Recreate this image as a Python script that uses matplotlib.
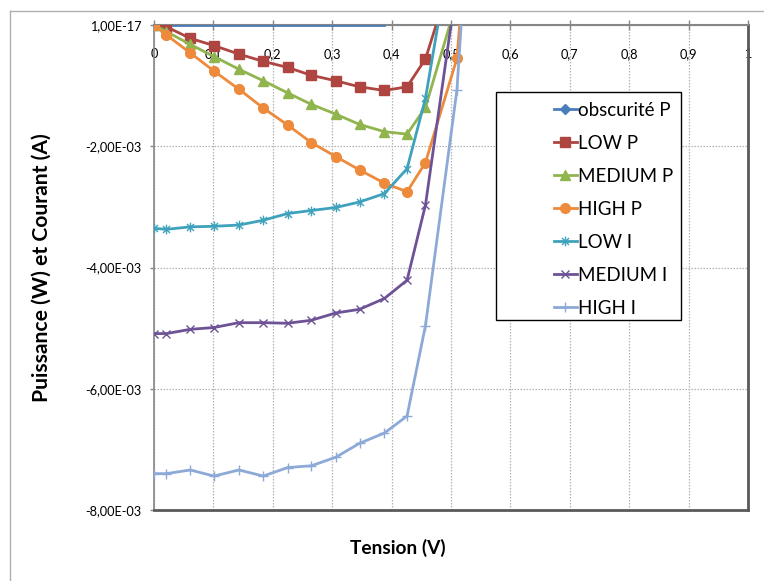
import numpy as np
import matplotlib
matplotlib.use("Agg")
import matplotlib.pyplot as plt
from matplotlib.lines import Line2D
from matplotlib.patches import Rectangle
from matplotlib.path import Path
from matplotlib.ticker import FuncFormatter, FixedLocator

plt.rcParams['font.family'] = ['Lato', 'DejaVu Sans']

nan = np.nan
# Tension (V)
tension = [0, 0.021, 0.061, 0.101, 0.143, 0.184, 0.225, 0.265, 0.306, 0.346, 0.388, 0.426, 0.457, 0.51, 0.55]

# Values in units of 1e-3 (W or A)
obscurite_p = [0, 0, 0, 0, 0, 0, 0, 0, 0, 0, 0, nan, nan, nan, nan]
low_p = [0, -0.03, -0.22, -0.34, -0.48, -0.60, -0.70, -0.83, -0.92, -1.02, -1.08, -1.02, -0.56, 1.09, 3.0]
medium_p = [0, -0.11, -0.32, -0.52, -0.73, -0.92, -1.12, -1.31, -1.47, -1.64, -1.76, -1.80, -1.36, 0.40, 2.5]
high_p = [0, -0.165, -0.46, -0.76, -1.06, -1.37, -1.65, -1.94, -2.17, -2.39, -2.61, -2.75, -2.27, -0.55, 4.3]
low_i = [-3.355, -3.37, -3.33, -3.32, -3.30, -3.22, -3.11, -3.06, -3.01, -2.92, -2.78, -2.37, -1.21, 1.84, 5.0]
medium_i = [-5.09, -5.09, -5.02, -4.99, -4.91, -4.91, -4.92, -4.87, -4.75, -4.69, -4.51, -4.21, -2.97, 0.69, 4.0]
high_i = [-7.40, -7.40, -7.34, -7.44, -7.34, -7.44, -7.30, -7.27, -7.13, -6.90, -6.73, -6.45, -4.96, -1.07, 5.0]

series_names = ["obscurité P", "LOW P", "MEDIUM P", "HIGH P", "LOW I", "MEDIUM I", "HIGH I"]
x_ticks = [0, 0.1, 0.2, 0.3, 0.4, 0.5, 0.6, 0.7, 0.8, 0.9, 1.0]
y_ticks = [-8e-3, -6e-3, -4e-3, -2e-3, 1e-17]

scale = 1e-3

star = Path([(0, -1), (0, 1), (-0.72, -0.72), (0.72, 0.72), (-0.72, 0.72), (0.72, -0.72)],
            [Path.MOVETO, Path.LINETO, Path.MOVETO, Path.LINETO, Path.MOVETO, Path.LINETO])

styles = [
    dict(color='#4A7EBB', marker='D', ms=5, mfc='#4A7EBB', mec='#4A7EBB'),
    dict(color='#AE4541', marker='s', ms=6.5, mfc='#AE4541', mec='#AE4541'),
    dict(color='#90B54E', marker='^', ms=7, mfc='#90B54E', mec='#90B54E'),
    dict(color='#EE8A3C', marker='o', ms=7, mfc='#EE8A3C', mec='#EE8A3C'),
    dict(color='#3FA2BC', marker=star, ms=7, mfc='none', mec='#3FA2BC', mew=1.0),
    dict(color='#6E5296', marker='x', ms=6, mfc='none', mec='#6E5296', mew=1.0),
    dict(color='#8DA9D8', marker='+', ms=7, mfc='none', mec='#8DA9D8', mew=1.0),
]

fig = plt.figure(figsize=(7.64, 5.81), dpi=100)
W, H = 764, 581
ax = fig.add_axes([154 / W, 1 - 510 / H, 594 / W, 485 / H])

data = [obscurite_p, low_p, medium_p, high_p, low_i, medium_i, high_i]
handles = []
for name, vals, st in zip(series_names, data, styles):
    y = np.array(vals, dtype=float) * scale
    if name == "obscurité P":
        ax.plot(tension, y, color=st['color'], lw=2.0, zorder=3)
        h = Line2D([], [], lw=2.0, **st)
    else:
        (h,) = ax.plot(tension, y, lw=2.0, zorder=3, **st)
    handles.append(h)

ax.set_xlim(0, 1)
ax.set_ylim(-8e-3, 1e-17)
ax.xaxis.set_major_locator(FixedLocator(x_ticks))
ax.yaxis.set_major_locator(FixedLocator(y_ticks))
ax.xaxis.set_major_formatter(FuncFormatter(lambda v, p: f"{v:g}".replace('.', ',')))
ax.yaxis.set_major_formatter(FuncFormatter(lambda v, p: f"{v:.2E}".replace('.', ',')))

ax.grid(True, color='#b4b4b4', linestyle=(0, (1.2, 1.2)), linewidth=0.9)
ax.set_axisbelow(True)

gray = '#868686'
dark = '#5a5a5a'
ax.spines['bottom'].set_position(('axes', 1.0))
ax.spines['bottom'].set_color(gray)
ax.spines['bottom'].set_linewidth(1.5)
ax.spines['top'].set_position(('axes', 0.0))
ax.spines['top'].set_color(dark)
ax.spines['top'].set_linewidth(2.0)
ax.spines['right'].set_color(dark)
ax.spines['right'].set_linewidth(2.0)
ax.spines['left'].set_color(gray)
ax.spines['left'].set_linewidth(1.2)

ax.tick_params(axis='x', direction='inout', length=7, width=1, color=gray, pad=13,
               labelsize=9.2, labelcolor='#000000')
ax.tick_params(axis='y', direction='out', length=3, width=1, color=gray, pad=6,
               labelsize=9.2, labelcolor='#000000')

ax.set_xlabel("Tension (V)", fontsize=13.8, fontweight='bold', va='center')
ax.xaxis.set_label_coords((398 - 154) / 594, (510 - 548) / 485)
ax.set_ylabel("Puissance (W) et Courant (A)", fontsize=15.2, fontweight='bold', va='center')
ax.yaxis.set_label_coords((42 - 154) / 594, (510 - 268) / 485)

# legend box
box = Rectangle((495.7 / W, 1 - 320 / H), (681 - 495.7) / W, (320 - 91.7) / H,
                transform=fig.transFigure, facecolor='white', edgecolor='#000000',
                linewidth=1.0, zorder=4)
fig.add_artist(box)
fig.legend(handles, series_names, loc='upper left',
           bbox_to_anchor=(554 / W, 1 - 101.5 / H), bbox_transform=fig.transFigure,
           frameon=False, fontsize=13.5, borderpad=0, borderaxespad=0,
           handlelength=1.2, handletextpad=0.1, labelspacing=0.855, markerscale=1.0)

# outer chart border (top and left)
fig.add_artist(Line2D([10 / W, 1], [1 - 11 / H, 1 - 11 / H], transform=fig.transFigure,
                      color='#b0b0b0', lw=1.0))
fig.add_artist(Line2D([10 / W, 10 / W], [1 - 11 / H, 0], transform=fig.transFigure,
                      color='#b0b0b0', lw=1.0))

fig.savefig("out.png", dpi=100)
